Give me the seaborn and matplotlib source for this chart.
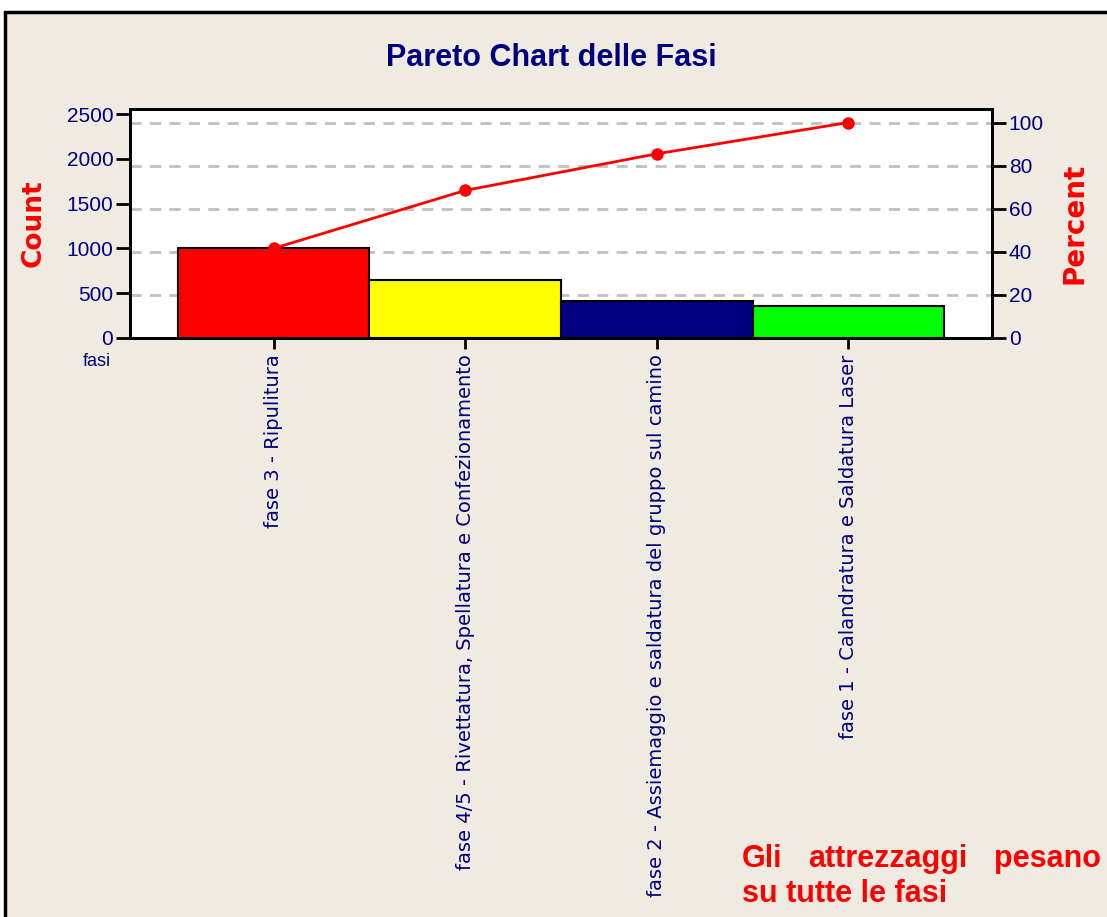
import numpy as np
import pandas as pd
import seaborn as sns
import matplotlib.pyplot as plt
from matplotlib.patches import Rectangle

# data
fasi = [
    "fase 3 - Ripulitura",
    "fase 4/5 - Rivettatura, Spellatura e Confezionamento",
    "fase 2 - Assiemaggio e saldatura del gruppo sul camino",
    "fase 1 - Calandratura e Saldatura Laser",
]
counts = [1000, 648, 410, 350]
bar_colors = ["#FF0000", "#FFFF00", "#000080", "#00FF00"]
count_ticks = [0, 500, 1000, 1500, 2000, 2500]
percent_ticks = [0, 20, 40, 60, 80, 100]

NAVY = "#000080"
BG = "#EFEBE1"

df = pd.DataFrame({"fase": fasi, "count": counts})
df["cum_pct"] = df["count"].cumsum() / df["count"].sum() * 100

sns.set_theme(style="white")
plt.rcParams["font.family"] = ["Liberation Sans", "DejaVu Sans"]

fig = plt.figure(figsize=(11.07, 9.17), dpi=100)
fig.patch.set_facecolor("white")
# beige panel with black frame
fig.patches.append(Rectangle((5 / 1107, -0.05), 1.1, 1 - 12 / 917 + 0.05,
                             transform=fig.transFigure, facecolor=BG,
                             edgecolor="black", lw=2.5, zorder=-5))

rect = [130 / 1107, 1 - 337.7 / 917, (992 - 130) / 1107, (337.7 - 109.3) / 917]
xlim = (-0.75, 3.75)
count_top = 2556
total = df["count"].sum()
pct_top = count_top / total * 100

# back axes: percent scale + dashed grid
ax2 = fig.add_axes(rect, zorder=1)
ax2.set_facecolor("white")
ax2.set_xlim(xlim)
ax2.set_ylim(0, pct_top)
for p in percent_ticks[1:]:
    ax2.axhline(p, color="#C0C0C0", lw=2, ls=(0, (4, 3)), zorder=1)
ax2.yaxis.tick_right()
ax2.yaxis.set_label_position("right")
ax2.set_yticks(percent_ticks)
ax2.set_yticklabels([str(t) for t in percent_ticks], color=NAVY, fontsize=15)
ax2.tick_params(axis="x", bottom=False, labelbottom=False)
ax2.tick_params(axis="y", direction="out", length=10, width=2, color="black",
                pad=2, right=True, left=False)
ax2.set_ylabel("Percent", color="#FF0000", fontsize=20, fontweight="bold",
               family="DejaVu Sans", labelpad=12)

# bars
ax = fig.add_axes(rect, zorder=2)
ax.patch.set_visible(False)
sns.barplot(data=df, x="fase", y="count", hue="fase", palette=bar_colors,
            legend=False, width=1.0, edgecolor="black", linewidth=1.5,
            saturation=1, ax=ax)
ax.set_ylim(0, count_top)
ax.set_xlim(xlim)
ax.set_yticks(count_ticks)
ax.set_yticklabels([str(t) for t in count_ticks], color=NAVY, fontsize=15)
ax.set_xticks(range(len(fasi)))
ax.set_xticklabels(fasi, rotation=90, color=NAVY, fontsize=14,
                   family="DejaVu Sans", va="top")
ax.tick_params(axis="y", direction="out", length=10, width=2, color="black", pad=2, left=True)
ax.tick_params(axis="x", direction="out", length=8, width=2, color="black", pad=4, bottom=True)
ax.set_xlabel("")
ax.set_ylabel("Count", color="#FF0000", fontsize=19, fontweight="bold",
              family="DejaVu Sans", labelpad=14)

# cumulative percent line on top
ax3 = fig.add_axes(rect, zorder=3)
sns.lineplot(x=np.arange(len(fasi)), y=df["cum_pct"].values, color="#FF0000", lw=2,
             marker="o", markersize=9, markeredgewidth=0, ax=ax3)
ax3.set_ylim(0, pct_top)
ax3.set_xlim(xlim)
ax3.axis("off")

for a in (ax, ax2):
    for s in a.spines.values():
        s.set_color("black")
        s.set_linewidth(2)

fig.text(97 / 1107, 1 - 362 / 917, "fasi", color=NAVY, fontsize=13,
         ha="center", va="center")

fig.text(551 / 1107, 1 - 58 / 917, "Pareto Chart delle Fasi", color=NAVY,
         fontsize=22, fontweight="bold", family="Liberation Sans",
         ha="center", va="center")

note = dict(color="#FF0000", fontsize=22, fontweight="bold", family="Liberation Sans")
fig.text(742 / 1107, 1 - 867 / 917, "Gli", ha="left", va="baseline", **note)
fig.text(808 / 1107, 1 - 867 / 917, "attrezzaggi", ha="left", va="baseline", **note)
fig.text(1101 / 1107, 1 - 867 / 917, "pesano", ha="right", va="baseline", **note)
fig.text(742 / 1107, 1 - 902 / 917, "su tutte le fasi", ha="left", va="baseline", **note)

fig.savefig("out.png", dpi=100, facecolor=fig.get_facecolor())
